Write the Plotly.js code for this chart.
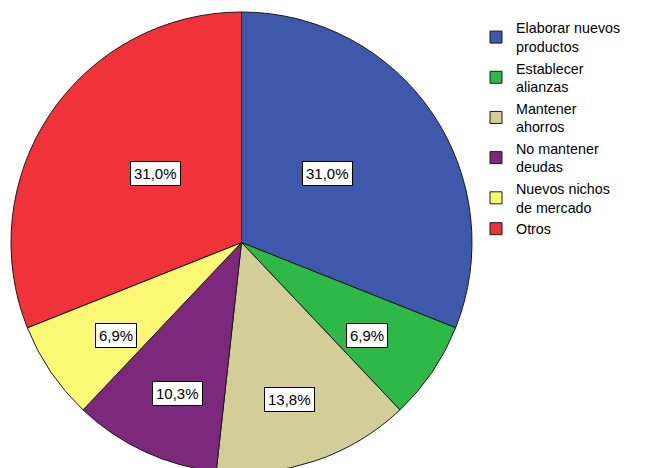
<!DOCTYPE html>
<html>
<head>
<meta charset="utf-8">
<script src="https://cdn.plot.ly/plotly-3.0.1.min.js"></script>
<style>
html, body { margin: 0; padding: 0; overflow: hidden; background: #fff; }
#chart { width: 650px; height: 473px; }
</style>
</head>
<body>
<div id="chart"></div>
<script>
const categories = [
  "Elaborar nuevos<br>productos",
  "Establecer<br>alianzas",
  "Mantener<br>ahorros",
  "No mantener<br>deudas",
  "Nuevos nichos<br>de mercado",
  "Otros"
];
const percentages = [31.0, 6.9, 13.8, 10.3, 6.9, 31.0];
const sliceColors = ["#3E58AC", "#2EB848", "#D3CE97", "#7C287D", "#FBF873", "#EF3338"];

const trace = {
  type: "pie",
  labels: categories,
  values: percentages,
  sort: false,
  direction: "clockwise",
  rotation: 0,
  textinfo: "none",
  hoverinfo: "label+percent",
  marker: { colors: sliceColors, line: { color: "#1a1a1a", width: 1 } },
  domain: { x: [0, 1], y: [0, 1] }
};

// label boxes placed from the data (mid-angle of each slice)
const total = percentages.reduce((a, b) => a + b, 0);
let cum = 0;
const annotations = percentages.map((v) => {
  const frac = v / total;
  const mid = (cum + frac / 2) * 2 * Math.PI;
  cum += frac;
  const big = frac > 0.2;
  const fx = big ? 0.45 : 0.66;
  const fy = big ? 0.53 : 0.72;
  return {
    xref: "paper", yref: "paper",
    x: 0.5 + fx * 0.5 * Math.sin(mid),
    y: 0.5 + fy * 0.5 * Math.cos(mid),
    text: v.toFixed(1).replace(".", ",") + "%",
    showarrow: false,
    font: { family: "Liberation Sans, Arial, sans-serif", size: 15, color: "#000" },
    bgcolor: "#ffffff",
    bordercolor: "#000000",
    borderwidth: 1,
    borderpad: 3,
    xanchor: "center", yanchor: "middle"
  };
});

const layout = {
  width: 650,
  height: 473,
  margin: { l: 11, r: 178, t: 12, b: 0 },
  paper_bgcolor: "#ffffff",
  showlegend: true,
  legend: {
    x: 1.0087, xanchor: "left",
    y: 1.0, yanchor: "top",
    font: { family: "Liberation Sans, Arial, sans-serif", size: 14.3, color: "#000" },
    bgcolor: "rgba(0,0,0,0)",
    tracegroupgap: 0
  },
  annotations: annotations
};

Plotly.newPlot("chart", [trace], layout, { displayModeBar: false, staticPlot: true });
</script>
</body>
</html>
